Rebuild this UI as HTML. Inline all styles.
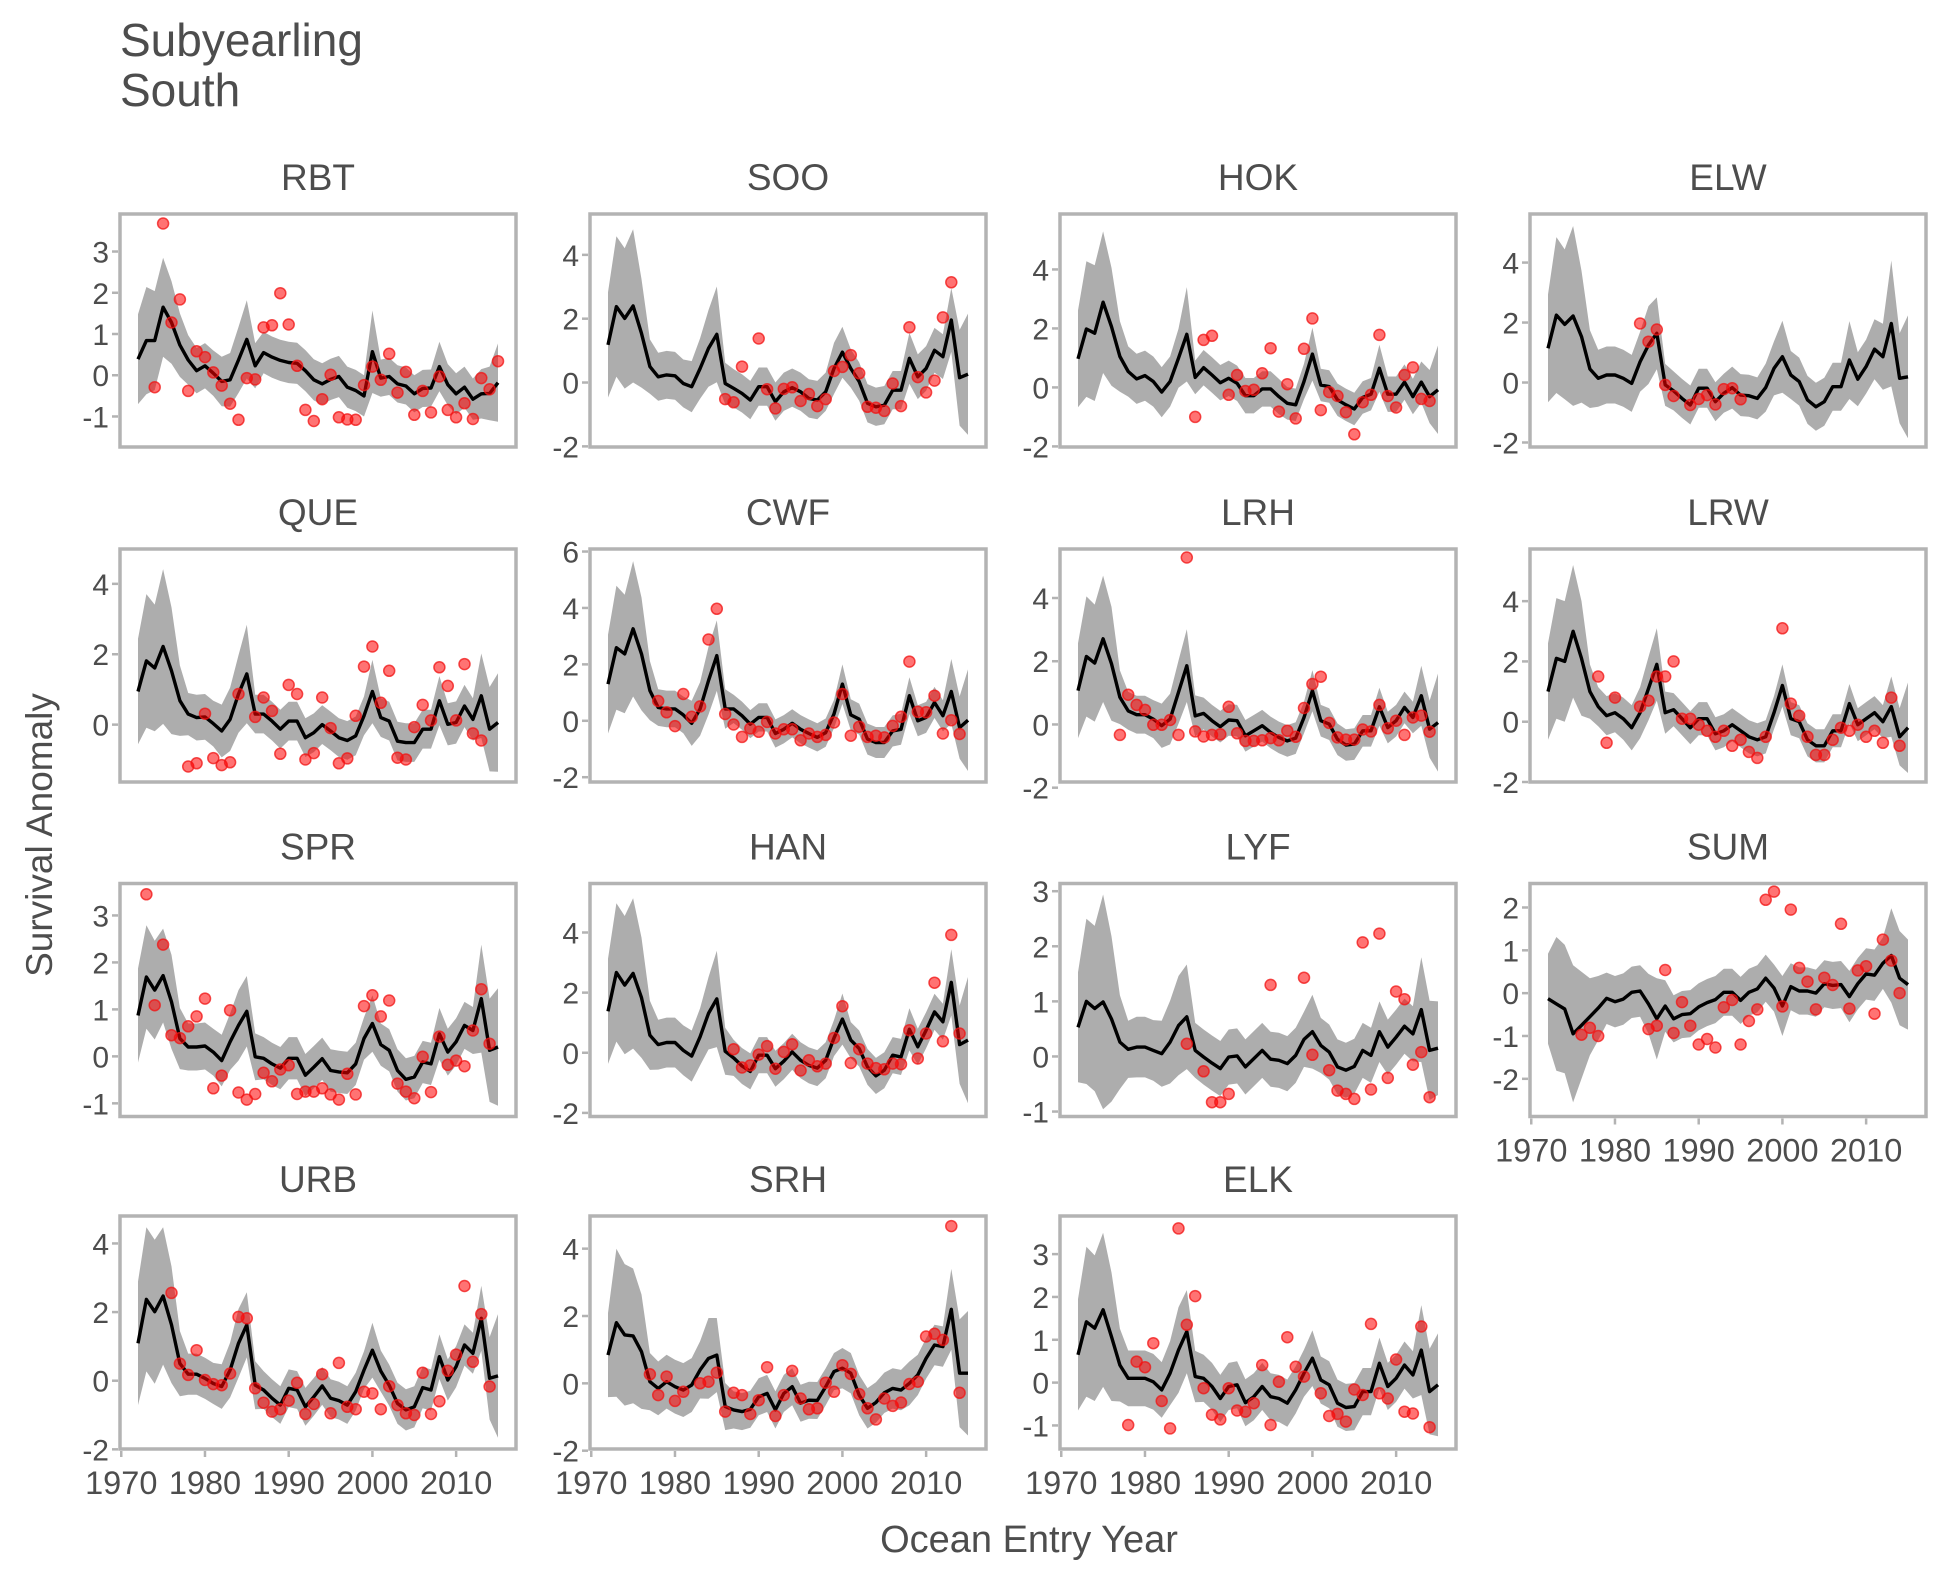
<!DOCTYPE html>
<html><head><meta charset="utf-8">
<style>
html,body{margin:0;padding:0;background:#fff;}
svg{display:block;}
text{font-family:"Liberation Sans",Arial,sans-serif;}
</style></head>
<body>
<svg id="chart" width="1950" height="1575" viewBox="0 0 1950 1575" xmlns="http://www.w3.org/2000/svg">
<text x="120" y="56" font-size="46" fill="#4d4d4d">Subyearling</text>
<text x="120" y="106" font-size="46" fill="#4d4d4d">South</text>
<text x="0" y="0" font-size="37" fill="#4d4d4d" text-anchor="middle" transform="translate(52,835) rotate(-90)">Survival Anomaly</text>
<text x="1029" y="1552" font-size="38" fill="#4d4d4d" text-anchor="middle">Ocean Entry Year</text>
<g id="panels"></g>
</svg>
<script>
const firstYear = 1972;
const lastYear = 2015;
const xTicks = [1970,1980,1990,2000,2010];
const panelNames = ["RBT","SOO","HOK","ELW","QUE","CWF","LRH","LRW","SPR","HAN","LYF","SUM","URB","SRH","ELK"];

const rbtLine=[0.39,0.84,0.84,1.65,1.28,0.73,0.37,0.11,0.23,0.05,-0.15,-0.11,0.37,0.87,0.23,0.55,0.44,0.36,0.31,0.29,0.11,-0.11,-0.21,-0.10,-0.03,-0.29,-0.37,-0.50,0.57,-0.07,-0.03,-0.21,-0.26,-0.45,-0.32,-0.31,0.21,-0.23,-0.45,-0.29,-0.58,-0.45,-0.44,-0.18];
const sooLine=[1.18,2.38,2.01,2.40,1.54,0.50,0.18,0.24,0.21,-0.03,-0.13,0.44,1.07,1.51,-0.03,-0.18,-0.34,-0.55,-0.13,-0.13,-0.60,-0.29,-0.16,-0.29,-0.50,-0.55,-0.29,0.44,0.95,0.44,0.03,-0.65,-0.76,-0.71,-0.24,-0.24,0.76,0.18,0.44,1.01,0.81,1.96,0.15,0.26];
const hokLine=[0.97,1.98,1.84,2.89,2.06,1.05,0.54,0.29,0.40,0.20,-0.16,0.20,0.99,1.80,0.34,0.67,0.42,0.16,0.31,0.14,-0.28,-0.28,-0.05,-0.05,-0.31,-0.54,-0.59,0.20,1.13,0.08,0.03,-0.42,-0.59,-0.73,-0.34,-0.23,0.65,-0.23,-0.23,0.18,-0.31,0.18,-0.31,-0.08];
const elwLine=[1.14,2.25,1.94,2.22,1.53,0.45,0.14,0.25,0.25,0.14,-0.03,0.69,1.25,1.64,-0.08,-0.28,-0.53,-0.75,-0.19,-0.19,-0.64,-0.36,-0.17,-0.42,-0.44,-0.53,-0.17,0.47,0.86,0.25,0.03,-0.58,-0.81,-0.64,-0.14,-0.14,0.75,0.11,0.53,1.11,0.86,1.97,0.14,0.19];
const queLine=[0.94,1.81,1.61,2.22,1.53,0.68,0.30,0.20,0.22,0.03,-0.18,0.15,0.87,1.44,0.30,0.30,0.10,-0.13,0.10,0.10,-0.37,-0.23,0.0,-0.18,-0.37,-0.45,-0.32,0.25,0.94,0.20,0.10,-0.47,-0.51,-0.51,-0.13,-0.13,0.68,0.01,0.06,0.53,0.15,0.82,-0.13,0.06];
const cwfLine=[1.30,2.59,2.37,3.26,2.37,1.07,0.47,0.42,0.42,0.21,-0.09,0.42,1.42,2.31,0.42,0.42,0.18,-0.12,0.12,0.12,-0.45,-0.30,-0.09,-0.30,-0.45,-0.59,-0.42,0.24,1.30,0.21,0.06,-0.65,-0.77,-0.77,-0.36,-0.30,0.89,0.0,0.12,0.65,0.18,1.04,-0.24,0.02];
const lrhLine=[1.07,2.15,1.94,2.71,1.92,0.86,0.43,0.31,0.31,0.17,-0.04,0.17,1.02,1.86,0.27,0.35,0.12,-0.07,0.14,0.12,-0.36,-0.20,-0.04,-0.25,-0.41,-0.52,-0.43,0.22,1.07,0.12,0.01,-0.47,-0.65,-0.62,-0.20,-0.20,0.56,-0.10,0.12,0.54,0.22,0.91,-0.15,0.06];
const lrwLine=[1.0,2.1,2.0,3.0,2.1,1.0,0.5,0.2,0.3,0.1,-0.2,0.3,1.1,1.9,0.3,0.4,0.1,-0.2,0.1,0.1,-0.4,-0.3,-0.1,-0.3,-0.5,-0.6,-0.5,0.3,1.2,0.1,0.0,-0.6,-0.8,-0.8,-0.3,-0.3,0.6,-0.1,0.1,0.3,0.0,0.5,-0.5,-0.2];
const sprLine=[0.87,1.69,1.41,1.72,1.16,0.38,0.20,0.20,0.22,0.09,-0.09,0.31,0.66,0.96,-0.01,-0.04,-0.16,-0.25,-0.04,-0.04,-0.40,-0.23,-0.05,-0.30,-0.33,-0.35,-0.16,0.38,0.70,0.25,0.13,-0.30,-0.49,-0.44,-0.12,-0.16,0.48,0.09,0.31,0.66,0.55,1.23,0.13,0.20];
const hanLine=[1.38,2.67,2.25,2.64,1.83,0.58,0.27,0.34,0.34,0.08,-0.11,0.53,1.31,1.79,0.05,-0.17,-0.44,-0.62,-0.08,-0.08,-0.53,-0.28,0.03,-0.25,-0.42,-0.51,-0.25,0.49,1.12,0.42,0.14,-0.47,-0.77,-0.58,-0.08,-0.14,0.78,0.20,0.75,1.36,1.03,2.34,0.27,0.42];
const lyfLine=[0.53,1.0,0.87,0.99,0.68,0.26,0.13,0.17,0.17,0.11,0.05,0.26,0.56,0.72,0.11,-0.01,-0.12,-0.22,-0.01,0.01,-0.19,-0.04,0.11,-0.05,-0.07,-0.13,0.02,0.31,0.45,0.20,0.08,-0.19,-0.25,-0.18,0.11,0.02,0.45,0.17,0.35,0.55,0.41,0.85,0.11,0.15];
const sumLine=[-0.13,-0.25,-0.37,-0.95,-0.75,-0.55,-0.35,-0.12,-0.2,-0.14,0.02,0.05,-0.25,-0.6,-0.3,-0.6,-0.5,-0.48,-0.32,-0.22,-0.15,0.02,0.02,-0.17,0.02,0.1,0.35,0.12,-0.3,0.15,0.05,0.05,0.0,0.22,0.18,0.2,-0.08,0.22,0.45,0.42,0.7,0.88,0.35,0.2];
const urbLine=[1.09,2.37,2.01,2.47,1.63,0.50,0.19,0.19,0.07,-0.08,-0.17,0.31,1.09,1.63,-0.13,-0.27,-0.51,-0.71,-0.22,-0.27,-0.76,-0.47,-0.15,-0.51,-0.58,-0.71,-0.32,0.31,0.89,0.28,-0.13,-0.66,-0.85,-0.76,-0.20,-0.27,0.70,0.02,0.41,1.04,0.80,1.82,0.07,0.14];
const srhLine=[0.84,1.80,1.44,1.41,0.94,0.05,-0.15,0.05,-0.10,-0.20,-0.05,0.40,0.74,0.84,-0.69,-0.79,-0.84,-0.77,-0.40,-0.30,-0.79,-0.30,-0.10,-0.59,-0.50,-0.51,-0.10,0.35,0.45,0.30,-0.35,-0.74,-0.57,-0.28,-0.15,-0.20,0.0,0.25,0.74,1.14,1.09,2.20,0.30,0.30];
const elkLine=[0.65,1.42,1.27,1.70,1.07,0.41,0.10,0.10,0.10,0.02,-0.17,0.22,0.76,1.19,0.14,0.10,-0.09,-0.37,-0.09,-0.05,-0.47,-0.33,-0.09,-0.33,-0.37,-0.48,-0.17,0.22,0.57,0.06,-0.05,-0.48,-0.58,-0.56,-0.21,-0.21,0.45,-0.09,0.10,0.41,0.18,0.76,-0.21,-0.05];

const rbtBand=[1.09,1.3,1.2,1.2,1.0,0.77,0.6,0.55,0.55,0.55,0.6,0.65,0.8,0.95,0.55,0.5,0.5,0.5,0.5,0.5,0.5,0.5,0.5,0.5,0.5,0.5,0.5,0.5,1.0,0.45,0.45,0.45,0.45,0.45,0.45,0.45,0.6,0.5,0.5,0.5,0.5,0.6,0.65,0.95];
const sooBand=[1.65,2.2,2.2,2.4,1.7,0.85,0.75,0.75,0.75,0.75,0.8,0.95,1.2,1.5,0.65,0.6,0.6,0.6,0.6,0.6,0.6,0.6,0.6,0.6,0.6,0.6,0.6,0.8,0.8,0.6,0.6,0.6,0.6,0.6,0.6,0.6,0.8,0.7,0.7,0.7,0.7,1.0,1.5,1.9];
const hokBand=[1.64,2.3,2.3,2.4,2.0,1.2,0.85,0.85,0.85,0.85,0.85,0.85,1.0,1.6,0.57,0.6,0.6,0.6,0.6,0.6,0.6,0.6,0.6,0.6,0.6,0.55,0.55,0.6,0.9,0.55,0.55,0.55,0.55,0.55,0.55,0.55,0.8,0.6,0.6,0.6,0.6,0.7,0.9,1.5];
const elwBand=[1.8,2.6,2.5,3.0,2.2,1.3,0.95,0.95,0.95,0.95,0.95,1.0,1.3,1.2,0.7,0.65,0.65,0.65,0.65,0.65,0.65,0.65,0.7,0.7,0.7,0.7,0.8,0.9,1.2,0.8,0.8,0.8,0.8,0.8,0.8,0.8,1.3,0.9,0.9,1.0,1.1,2.1,1.5,2.05];
const queBand=[1.5,1.9,1.8,2.2,1.8,1.0,0.6,0.65,0.65,0.65,0.75,0.9,1.1,1.4,0.55,0.55,0.55,0.55,0.55,0.55,0.55,0.55,0.55,0.55,0.55,0.55,0.55,0.55,0.9,0.55,0.55,0.55,0.55,0.55,0.55,0.55,0.7,0.6,0.6,0.6,0.6,1.2,1.2,1.4];
const cwfBand=[1.75,2.2,2.1,2.4,2.0,1.05,0.65,0.65,0.65,0.65,0.8,0.95,1.2,1.25,0.7,0.5,0.5,0.5,0.5,0.5,0.5,0.5,0.5,0.5,0.5,0.5,0.5,0.5,0.7,0.55,0.55,0.55,0.55,0.55,0.55,0.55,0.65,0.55,0.55,0.55,0.55,1.15,1.1,1.8];
const lrhBand=[1.5,1.9,1.85,2.0,1.8,0.85,0.6,0.6,0.6,0.6,0.7,0.8,1.0,1.15,0.65,0.5,0.5,0.5,0.5,0.5,0.5,0.5,0.5,0.5,0.5,0.5,0.5,0.5,0.65,0.5,0.5,0.5,0.5,0.5,0.5,0.5,0.6,0.5,0.5,0.5,0.5,0.95,0.9,1.55];
const lrwBand=[1.6,2.0,2.0,2.2,1.9,0.9,0.65,0.65,0.65,0.7,0.75,0.85,1.05,1.2,0.7,0.55,0.55,0.55,0.55,0.55,0.55,0.55,0.55,0.55,0.55,0.55,0.55,0.55,0.7,0.55,0.55,0.55,0.55,0.55,0.55,0.55,0.65,0.55,0.55,0.55,0.55,1.0,0.95,1.5];
const sprBand=[1.0,1.1,1.05,1.0,1.0,0.65,0.5,0.5,0.5,0.5,0.55,0.6,0.75,0.75,0.5,0.45,0.45,0.45,0.45,0.45,0.45,0.45,0.45,0.45,0.45,0.45,0.45,0.45,0.6,0.45,0.45,0.45,0.45,0.45,0.45,0.45,0.55,0.5,0.5,0.5,0.5,1.15,1.1,1.25];
const hanBand=[1.75,2.3,2.3,2.5,2.0,1.15,0.83,0.83,0.83,0.83,0.85,0.95,1.2,1.6,0.78,0.6,0.6,0.6,0.6,0.6,0.6,0.6,0.6,0.6,0.6,0.6,0.6,0.6,0.85,0.6,0.6,0.6,0.6,0.6,0.6,0.6,0.7,0.6,0.6,0.6,0.6,1.1,1.3,2.1];
const lyfBand=[1.0,1.5,1.5,1.95,1.5,0.85,0.52,0.55,0.55,0.55,0.6,0.75,0.9,0.95,0.5,0.5,0.5,0.5,0.5,0.5,0.5,0.5,0.5,0.5,0.5,0.5,0.5,0.5,0.67,0.5,0.5,0.5,0.5,0.5,0.5,0.5,0.55,0.5,0.5,0.5,0.5,0.95,0.9,0.85];
const sumBand=[1.05,1.56,1.5,1.6,1.25,0.9,0.75,0.6,0.6,0.6,0.6,0.6,0.7,0.95,0.6,0.55,0.55,0.55,0.55,0.55,0.55,0.55,0.55,0.55,0.55,0.55,0.55,0.55,0.7,0.55,0.55,0.55,0.55,0.55,0.55,0.55,0.6,0.6,0.6,0.6,0.6,1.1,1.1,1.05];
const urbBand=[1.8,2.1,2.1,2.0,1.7,0.95,0.6,0.6,0.6,0.6,0.65,0.8,1.0,0.95,0.7,0.55,0.55,0.55,0.55,0.55,0.55,0.55,0.55,0.55,0.55,0.55,0.55,0.55,0.8,0.6,0.6,0.6,0.6,0.6,0.6,0.6,0.65,0.6,0.6,0.6,0.6,0.95,1.2,1.8];
const srhBand=[1.25,2.2,2.1,2.0,1.7,0.85,0.8,0.8,0.8,0.8,0.8,0.85,1.2,1.1,0.7,0.55,0.55,0.55,0.55,0.55,0.55,0.55,0.55,0.55,0.55,0.55,0.55,0.55,0.6,0.6,0.6,0.6,0.6,0.6,0.6,0.6,0.65,0.6,0.6,0.6,0.6,1.2,1.6,1.85];
const elkBand=[1.3,1.75,1.7,1.8,1.5,0.85,0.65,0.65,0.65,0.65,0.65,0.75,1.0,0.97,0.6,0.55,0.55,0.55,0.55,0.55,0.55,0.55,0.55,0.55,0.55,0.55,0.55,0.55,0.65,0.55,0.55,0.55,0.55,0.55,0.55,0.55,0.6,0.55,0.55,0.55,0.55,1.05,1.0,1.2];

const rbtPtStart=1974;
const rbtPts=[-0.29,3.68,1.28,1.84,-0.38,0.58,0.44,0.07,-0.25,-0.69,-1.08,-0.07,-0.10,1.16,1.21,1.99,1.23,0.23,-0.84,-1.11,-0.58,0.01,-1.02,-1.07,-1.08,-0.24,0.21,-0.11,0.52,-0.42,0.08,-0.96,-0.38,-0.90,-0.03,-0.84,-1.02,-0.68,-1.06,-0.07,-0.34,0.34];
const sooPtStart=1986;
const sooPts=[-0.52,-0.62,0.50,null,1.38,-0.21,-0.81,-0.20,-0.15,-0.58,-0.36,-0.74,-0.52,0.36,0.49,0.86,0.29,-0.76,-0.79,-0.89,-0.03,-0.74,1.73,0.17,-0.31,0.06,2.04,3.14];
const hokPtStart=1986;
const hokPts=[-1.0,1.61,1.75,null,-0.25,0.42,-0.12,-0.08,0.48,1.33,-0.82,0.11,-1.05,1.31,2.34,-0.77,-0.16,-0.29,-0.84,-1.59,-0.50,-0.25,1.78,-0.29,-0.68,0.42,0.68,-0.39,-0.46];
const elwPtStart=1983;
const elwPts=[1.97,1.36,1.77,-0.08,-0.45,null,-0.75,-0.55,-0.42,-0.73,-0.22,-0.19,-0.56];
const quePtStart=1978;
const quePts=[-1.19,-1.10,0.31,-0.95,-1.15,-1.07,0.87,null,0.22,0.77,0.39,-0.83,1.13,0.87,-0.99,-0.81,0.77,-0.10,-1.10,-0.96,0.25,1.65,2.22,0.62,1.53,-0.94,-0.99,-0.07,0.56,0.12,1.63,1.10,0.12,1.72,-0.25,-0.45];
const cwfPtStart=1978;
const cwfPts=[0.70,0.30,-0.19,0.95,0.14,0.51,2.88,3.97,0.24,-0.13,-0.57,-0.27,-0.39,-0.04,-0.45,-0.30,-0.30,-0.69,-0.45,-0.57,-0.50,-0.06,0.95,-0.53,-0.21,-0.57,-0.53,-0.59,-0.18,0.14,2.10,0.32,0.30,0.89,-0.45,0.02,-0.47];
const lrhPtStart=1977;
const lrhPts=[-0.33,0.94,0.62,0.46,-0.01,-0.01,0.14,-0.33,5.28,-0.22,-0.38,-0.33,-0.31,0.56,-0.28,-0.52,-0.52,-0.50,-0.43,-0.50,-0.20,-0.39,0.52,1.28,1.51,0.05,-0.41,-0.48,-0.48,-0.16,-0.22,0.62,-0.12,0.12,-0.33,0.22,0.28,-0.23];
const lrwPtStart=1978;
const lrwPts=[1.5,-0.7,0.8,null,null,0.5,0.7,1.5,1.5,2.0,0.1,0.1,-0.1,-0.3,-0.5,-0.3,-0.8,-0.6,-1.0,-1.2,-0.5,null,3.1,0.6,0.2,-0.5,-1.1,-1.1,-0.6,-0.2,-0.3,-0.1,-0.5,-0.3,-0.7,0.8,-0.8];
const sprPtStart=1973;
const sprPts=[3.45,1.09,2.38,0.45,0.39,0.64,0.85,1.23,-0.68,-0.41,0.98,-0.77,-0.92,-0.80,-0.35,-0.53,-0.28,-0.19,-0.80,-0.75,-0.75,-0.68,-0.81,-0.92,-0.37,-0.81,1.07,1.30,0.85,1.19,-0.58,-0.75,-0.89,-0.01,-0.76,0.42,-0.18,-0.09,-0.21,0.55,1.43,0.27];
const hanPtStart=1987;
const hanPts=[0.12,-0.49,-0.42,-0.06,0.22,-0.53,0.03,0.28,-0.59,-0.25,-0.45,-0.36,0.49,1.55,-0.34,0.12,-0.36,-0.51,-0.55,-0.36,-0.38,0.75,-0.19,0.64,2.33,0.38,3.92,0.64];
const lyfPtStart=1985;
const lyfPts=[0.23,null,-0.27,-0.83,-0.83,-0.68,null,null,null,null,1.30,null,null,null,1.43,0.03,null,-0.25,-0.62,-0.68,-0.77,2.07,-0.60,2.23,-0.39,1.18,1.04,-0.15,0.08,-0.74];
const sumPtStart=1976;
const sumPts=[-0.97,-0.81,-1.0,null,null,null,null,null,-0.84,-0.76,0.54,-0.93,-0.21,-0.76,-1.2,-1.07,-1.27,-0.33,-0.16,-1.2,-0.65,-0.38,2.18,2.37,-0.31,1.95,0.59,0.27,-0.38,0.36,0.19,1.62,-0.36,0.53,0.63,-0.48,1.25,0.76,0.0];
const urbPtStart=1976;
const urbPts=[2.56,0.50,0.17,0.89,0.02,-0.10,-0.13,0.21,1.86,1.82,-0.22,-0.64,-0.90,-0.83,-0.58,-0.06,-0.97,-0.68,0.19,-0.95,0.52,-0.76,-0.83,-0.32,-0.37,-0.83,-0.16,-0.71,-0.95,-1.0,0.23,-0.97,-0.60,0.29,0.76,2.76,0.55,1.94,-0.17];
const srhPtStart=1977;
const srhPts=[0.27,-0.35,0.20,-0.52,-0.25,null,0.0,0.05,0.32,-0.84,-0.28,-0.35,-0.91,-0.50,0.48,-0.97,-0.35,0.37,-0.45,-0.77,-0.74,0.02,-0.25,0.54,0.28,-0.32,-0.74,-1.07,-0.45,-0.67,-0.57,-0.02,0.05,1.39,1.47,1.29,4.67,-0.28];
const elkPtStart=1978;
const elkPts=[-0.99,0.49,0.36,0.92,-0.43,-1.07,3.60,1.35,2.02,-0.13,-0.75,-0.86,-0.13,-0.65,-0.68,-0.48,0.41,-0.99,0.02,1.06,0.37,0.14,null,-0.25,-0.78,-0.73,-0.91,-0.16,-0.29,1.37,-0.25,-0.37,0.54,-0.68,-0.72,1.31,-1.04];

const yDomains=[[-1.74,3.91],[-2.02,5.28],[-2.02,5.88],[-2.15,5.62],[-1.63,4.99],[-2.17,6.09],[-1.82,5.55],[-2.0,5.73],[-1.28,3.68],[-2.12,5.63],[-1.09,3.14],[-2.88,2.56],[-1.99,4.80],[-1.95,4.97],[-1.55,3.89]];
const yTicks=[[-1,0,1,2,3],[-2,0,2,4],[-2,0,2,4],[-2,0,2,4],[0,2,4],[-2,0,2,4,6],[-2,0,2,4],[-2,0,2,4],[-1,0,1,2,3],[-2,0,2,4],[-1,0,1,2,3],[-2,-1,0,1,2],[-2,0,2,4],[-2,0,2,4],[-1,0,1,2,3]];

const lines=[rbtLine,sooLine,hokLine,elwLine,queLine,cwfLine,lrhLine,lrwLine,sprLine,hanLine,lyfLine,sumLine,urbLine,srhLine,elkLine];
const bands=[rbtBand,sooBand,hokBand,elwBand,queBand,cwfBand,lrhBand,lrwBand,sprBand,hanBand,lyfBand,sumBand,urbBand,srhBand,elkBand];
const pts=[rbtPts,sooPts,hokPts,elwPts,quePts,cwfPts,lrhPts,lrwPts,sprPts,hanPts,lyfPts,sumPts,urbPts,srhPts,elkPts];
const ptStarts=[rbtPtStart,sooPtStart,hokPtStart,elwPtStart,quePtStart,cwfPtStart,lrhPtStart,lrwPtStart,sprPtStart,hanPtStart,lyfPtStart,sumPtStart,urbPtStart,srhPtStart,elkPtStart];

const NS="http://www.w3.org/2000/svg";
const panelW=396, panelH=233;
const colLeft=[120,590,1060,1530];
const rowTop=[214,549,883.5,1216];
const xDom=[1969.85,2017.15];
const showXAxis=[false,false,false,false,false,false,false,false,false,false,false,true,true,true,true];

function mk(tag, attrs){const e=document.createElementNS(NS,tag);for(const k in attrs)e.setAttribute(k,attrs[k]);return e;}

const root=document.getElementById('panels');
panelNames.forEach((name,i)=>{
  const L=colLeft[i%4], T=rowTop[Math.floor(i/4)];
  const [ymin,ymax]=yDomains[i];
  const xs=yr=>L+(yr-xDom[0])/(xDom[1]-xDom[0])*panelW;
  const ys=v=>T+(ymax-v)/(ymax-ymin)*panelH;
  const key=name.toLowerCase();
  const g=mk('g',{});
  
  
  root.appendChild(g);

  const title=mk('text',{x:L+panelW/2,y:T-24,'font-size':37,fill:'#4d4d4d','text-anchor':'middle'});
  title.textContent=name;
  
  
  g.appendChild(title);

  const clipId='clip'+i;
  const cp=mk('clipPath',{id:clipId});
  cp.appendChild(mk('rect',{x:L,y:T,width:panelW,height:panelH}));
  g.appendChild(cp);
  const inner=mk('g',{'clip-path':'url(#'+clipId+')'});
  g.appendChild(inner);

  const line=lines[i], band=bands[i];
  let up=[],lo=[];
  for(let k=0;k<line.length;k++){
    const yr=firstYear+k;
    up.push(xs(yr).toFixed(1)+','+ys(line[k]+band[k]).toFixed(1));
    lo.unshift(xs(yr).toFixed(1)+','+ys(line[k]-band[k]).toFixed(1));
  }
  const bandEl=mk('polygon',{points:up.concat(lo).join(' '),fill:'#adadad',stroke:'none'});
  
  
  inner.appendChild(bandEl);

  const pp=line.map((v,k)=>xs(firstYear+k).toFixed(1)+','+ys(v).toFixed(1)).join(' ');
  const lineEl=mk('polyline',{points:pp,fill:'none',stroke:'#000','stroke-width':3.4,'stroke-linejoin':'round'});
  
  
  inner.appendChild(lineEl);

  pts[i].forEach((v,k)=>{
    if(v===null) return;
    const c=mk('circle',{cx:xs(ptStarts[i]+k).toFixed(1),cy:ys(v).toFixed(1),r:5.5,fill:'rgba(255,0,0,0.55)',stroke:'rgba(240,20,20,0.75)','stroke-width':1.5});
    
    
    g.appendChild(c);
  });

  const border=mk('rect',{x:L,y:T,width:panelW,height:panelH,fill:'none',stroke:'#b3b3b3','stroke-width':3.5});
  
  
  g.appendChild(border);

  yTicks[i].forEach(t=>{
    const y=ys(t);
    const tm=mk('line',{x1:L-8,x2:L-2,y1:y,y2:y,stroke:'#b3b3b3','stroke-width':2.5});
    
    
    g.appendChild(tm);
    const tl=mk('text',{x:L-11,y:y+11,'font-size':30,fill:'#4d4d4d','text-anchor':'end'});
    tl.textContent=String(t);
    
    
    g.appendChild(tl);
  });

  if(showXAxis[i]){
    xTicks.forEach(t=>{
      const x=xs(t);
      const tm=mk('line',{x1:x,x2:x,y1:T+panelH+2,y2:T+panelH+8,stroke:'#b3b3b3','stroke-width':2.5});
      
      
      g.appendChild(tm);
      const tl=mk('text',{x:x,y:T+panelH+45,'font-size':32.5,fill:'#4d4d4d','text-anchor':'middle'});
      tl.textContent=String(t);
      
      
      g.appendChild(tl);
    });
  }
});
</script>
</body></html>
